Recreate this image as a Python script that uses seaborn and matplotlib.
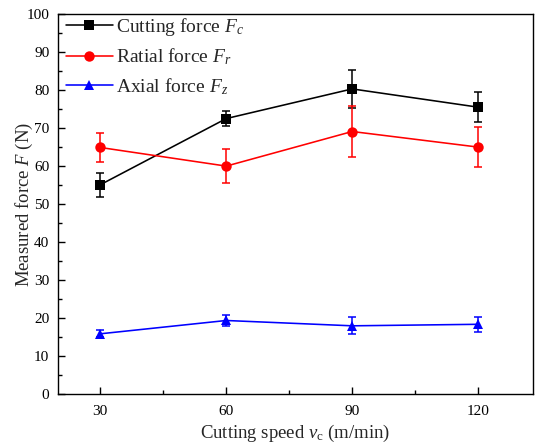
import matplotlib
matplotlib.use("Agg")
import matplotlib.pyplot as plt
from matplotlib.ticker import MultipleLocator
import seaborn as sns
import pandas as pd

# Cutting speeds (m/min)
speeds = [30, 60, 90, 120]

# Mean force components (N) and their standard deviations
cutting_force = [55.1, 72.5, 80.3, 75.5]
cutting_err = [3.2, 1.9, 4.9, 4.0]
radial_force = [64.9, 60.0, 69.1, 65.0]
radial_err = [3.7, 4.4, 6.6, 5.2]
axial_force = [15.9, 19.4, 18.0, 18.4]
axial_err = [0.9, 1.4, 2.2, 1.9]

series_names = ["Cutting force $F_c$", "Ratial force $F_r$", "Axial force $F_z$"]
colors = ["#000000", "#ff0000", "#0000ff"]
markers = ["s", "o", "^"]

sns.set_theme(style="ticks")
plt.rcParams["font.family"] = ["Liberation Serif", "DejaVu Serif"]
plt.rcParams["mathtext.fontset"] = "custom"
plt.rcParams["mathtext.rm"] = "Liberation Serif"
plt.rcParams["mathtext.it"] = "Liberation Serif:italic"

frames = []
for name, vals, errs in zip(series_names,
                            [cutting_force, radial_force, axial_force],
                            [cutting_err, radial_err, axial_err]):
    frames.append(pd.DataFrame({"speed": speeds, "force": vals, "err": errs, "series": name}))
df = pd.concat(frames, ignore_index=True)

fig = plt.figure(figsize=(5.35, 4.46), dpi=100)
ax = fig.add_axes([0.109, 0.116, 0.8867, 0.8526])

msizes = {"s": 6.5, "o": 7.5, "^": 7.5}
for name, c, m in zip(series_names, colors, markers):
    sub = df[df["series"] == name]
    ax.errorbar(sub["speed"], sub["force"], yerr=sub["err"], fmt="none",
                ecolor=c, elinewidth=1.1, capsize=3.2, capthick=1.1, zorder=2)
    sns.lineplot(data=sub, x="speed", y="force", color=c, marker=m,
                 markersize=msizes[m], markeredgewidth=0, linewidth=1.15,
                 label=name, ax=ax, zorder=3)

ax.set_xlim(20, 133)
ax.set_ylim(0, 100)
ax.xaxis.set_major_locator(MultipleLocator(30))
ax.xaxis.set_minor_locator(MultipleLocator(15))
ax.yaxis.set_major_locator(MultipleLocator(10))
ax.yaxis.set_minor_locator(MultipleLocator(5))
ax.tick_params(which="both", direction="in", width=1.0, labelsize=11, colors="black")
ax.tick_params(which="major", length=5)
ax.tick_params(which="minor", length=3)
ax.tick_params(axis="x", which="both", top=False, pad=8)
ax.tick_params(axis="y", which="both", right=False, pad=6.5)
for s in ax.spines.values():
    s.set_linewidth(1.0)
    s.set_color("black")

ax.set_xlabel(r"Cutting speed $v_\mathrm{c}$ (m/min)", fontsize=13.5, labelpad=3)
ax.set_ylabel(r"Measured force $F$ (N)", fontsize=13.5, labelpad=-6.5)

ax.legend(loc="upper left", bbox_to_anchor=(0.004, 1.01), frameon=False,
          fontsize=14, handlelength=2.4, handletextpad=0.15,
          labelspacing=0.45, borderaxespad=0, borderpad=0.3)

fig.savefig("out.png", dpi=100)
